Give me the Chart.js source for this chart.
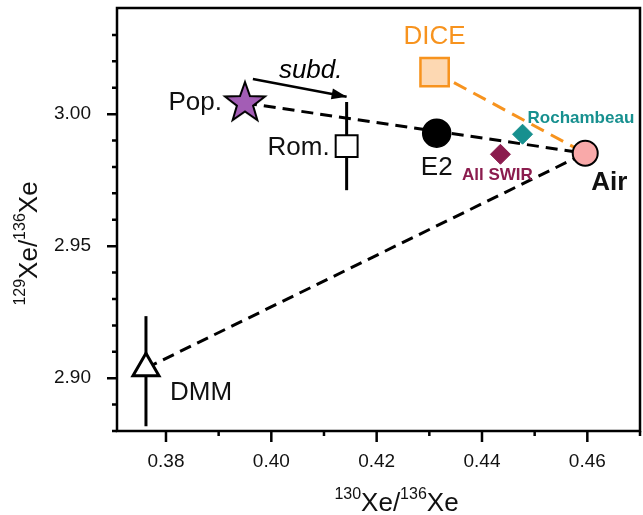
<!DOCTYPE html>
<html>
<head>
<meta charset="utf-8">
<script src="https://cdn.jsdelivr.net/npm/chart.js@4.4.0/dist/chart.umd.min.js"></script>
<style>
  html, body { margin: 0; padding: 0; background: #fff; }
</style>
</head>
<body>
<canvas id="xeChart" width="643" height="515"></canvas>
<script>
/* ------------ DATA ------------ */
const names = ['Pop.', 'Rom.', 'E2', 'Air', 'DICE', 'Rochambeau', 'All SWIR', 'DMM'];
const xVals = [0.3950, 0.4143, 0.4314, 0.4596, 0.4310, 0.4477, 0.4435, 0.3762];
const yVals = [3.0042, 2.9879, 2.9928, 2.9852, 3.0159, 2.9924, 2.9848, 2.9038];

const romErr = [2.9712, 3.0046];   // vertical error bar on Rom.
const dmmErr = [2.8818, 2.9235];   // vertical error bar on DMM

const subdX = [0.3965, 0.4143];    // "subd." arrow
const subdY = [3.0133, 3.0066];

const mixBlack = [['Pop.', 'Air'], ['DMM', 'Air']];
const mixOrange = [['DICE', 'Air']];

const xMajor = [0.38, 0.40, 0.42, 0.44, 0.46];
const xMajorLabels = ['0.38', '0.40', '0.42', '0.44', '0.46'];
const xMinor = [0.39, 0.41, 0.43, 0.45, 0.47];
const yMajor = [2.90, 2.95, 3.00];
const yMajorLabels = ['2.90', '2.95', '3.00'];
const yMinor = [2.89, 2.91, 2.92, 2.93, 2.94, 2.96, 2.97, 2.98, 2.99, 3.01, 3.02, 3.03];

/* ------------ STYLE ------------ */
const FONT = '"Liberation Sans", Arial, Helvetica, sans-serif';
const ORANGE = '#f7931e';
const TEAL = '#17908f';
const MAROON = '#8b1c4e';

const labelStyle = {
  'Pop.':       { dx: -23, dy: 7,   align: 'right',  font: `26px ${FONT}`, color: '#111' },
  'Rom.':       { dx: -17, dy: 9,   align: 'right',  font: `26px ${FONT}`, color: '#111' },
  'E2':         { dx: 0,   dy: 42,  align: 'center', font: `26px ${FONT}`, color: '#111' },
  'Air':        { dx: 6,   dy: 37,  align: 'left',   font: `bold 26px ${FONT}`, color: '#111' },
  'DICE':       { dx: 0,   dy: -28, align: 'center', font: `26px ${FONT}`, color: ORANGE },
  'Rochambeau': { dx: 5,   dy: -11, align: 'left',   font: `bold 17px ${FONT}`, color: TEAL },
  'All SWIR':   { dx: -3,  dy: 26,  align: 'center', font: `bold 17px ${FONT}`, color: MAROON },
  'DMM':        { dx: 24,  dy: 32,  align: 'left',   font: `26px ${FONT}`, color: '#111' }
};

/* ------------ HELPERS ------------ */
const pt = name => { const i = names.indexOf(name); return { x: xVals[i], y: yVals[i] }; };
const near = (a, b) => Math.abs(a - b) < 1e-6;

function starImage(r, ri, fill) {
  const c = document.createElement('canvas');
  const s = Math.ceil(r * 2 + 6);
  c.width = s; c.height = s;
  const g = c.getContext('2d');
  g.translate(s / 2, s / 2);
  g.beginPath();
  for (let i = 0; i < 10; i++) {
    const rr = i % 2 ? ri : r;
    const a = -Math.PI / 2 + i * Math.PI / 5;
    g.lineTo(rr * Math.cos(a), rr * Math.sin(a));
  }
  g.closePath();
  g.fillStyle = fill; g.fill();
  g.lineWidth = 2; g.strokeStyle = '#000'; g.lineJoin = 'miter'; g.stroke();
  return c;
}

const marker = (name, style, radius, fill, stroke, bw) => ({
  data: [pt(name)], pointStyle: style, pointRadius: radius,
  backgroundColor: fill, borderColor: stroke, borderWidth: bw, showLine: false, order: 0
});
const line = (data, color, dash, width) => ({
  data, showLine: true, pointRadius: 0, borderColor: color, borderDash: dash,
  borderWidth: width, fill: false, order: 1
});

/* ------------ DECORATION PLUGIN ------------ */
const deco = {
  id: 'deco',
  afterDatasetsDraw(chart) {
    const { ctx, scales: { x, y } } = chart;
    ctx.save();

    // arrowhead on the subd. arrow
    const x0 = x.getPixelForValue(subdX[0]), y0 = y.getPixelForValue(subdY[0]);
    const x1 = x.getPixelForValue(subdX[1]), y1 = y.getPixelForValue(subdY[1]);
    const ang = Math.atan2(y1 - y0, x1 - x0);
    ctx.fillStyle = '#000';
    ctx.beginPath();
    ctx.moveTo(x1, y1);
    ctx.lineTo(x1 - 15 * Math.cos(ang) + 5.5 * Math.sin(ang), y1 - 15 * Math.sin(ang) - 5.5 * Math.cos(ang));
    ctx.lineTo(x1 - 15 * Math.cos(ang) - 5.5 * Math.sin(ang), y1 - 15 * Math.sin(ang) + 5.5 * Math.cos(ang));
    ctx.closePath(); ctx.fill();
    ctx.font = `italic 26px ${FONT}`;
    ctx.textAlign = 'left'; ctx.textBaseline = 'alphabetic';
    ctx.fillText('subd.', x0 + 26, y0 - 1);

    // point labels
    names.forEach((n, i) => {
      const s = labelStyle[n];
      ctx.font = s.font; ctx.fillStyle = s.color; ctx.textAlign = s.align;
      ctx.fillText(n, x.getPixelForValue(xVals[i]) + s.dx, y.getPixelForValue(yVals[i]) + s.dy);
    });
    ctx.restore();
  },
  afterDraw(chart) {
    const { ctx, chartArea: a, scales: { x, y } } = chart;
    ctx.save();
    ctx.strokeStyle = '#000';
    ctx.lineWidth = 2.5;
    ctx.strokeRect(a.left, a.top, a.right - a.left, a.bottom - a.top);
    ctx.beginPath();
    ctx.moveTo(a.left - 5, a.bottom); ctx.lineTo(a.left, a.bottom);
    // ticks, pointing outward
    xMajor.forEach(v => { const p = x.getPixelForValue(v); ctx.moveTo(p, a.bottom); ctx.lineTo(p, a.bottom + 11); });
    xMinor.forEach(v => { const p = x.getPixelForValue(v); ctx.moveTo(p, a.bottom); ctx.lineTo(p, a.bottom + 5); });
    yMajor.forEach(v => { const p = y.getPixelForValue(v); ctx.moveTo(a.left, p); ctx.lineTo(a.left - 10, p); });
    yMinor.forEach(v => { const p = y.getPixelForValue(v); ctx.moveTo(a.left, p); ctx.lineTo(a.left - 5, p); });
    ctx.stroke();

    // axis titles with superscripts
    const pieces = [['130', true], ['Xe/', false], ['136', true], ['Xe', false]];
    const widthOf = () => pieces.reduce((w, [t, sup]) => {
      ctx.font = `${sup ? 16 : 26}px ${FONT}`; return w + ctx.measureText(t).width;
    }, 0);
    const drawTitle = (cx, base) => {
      let px = cx - widthOf() / 2;
      ctx.textAlign = 'left'; ctx.textBaseline = 'alphabetic'; ctx.fillStyle = '#111';
      pieces.forEach(([t, sup]) => {
        ctx.font = `${sup ? 16 : 26}px ${FONT}`;
        ctx.fillText(t, px, sup ? base - 12 : base);
        px += ctx.measureText(t).width;
      });
    };
    drawTitle((a.left + a.right) / 2 + 18, a.bottom + 80);

    pieces[0][0] = '129';
    ctx.translate(37, (a.top + a.bottom) / 2 + 24);
    ctx.rotate(-Math.PI / 2);
    drawTitle(0, 0);
    ctx.restore();
  }
};

/* ------------ CHART ------------ */
const tickFont = { family: FONT, size: 19 };
const hiddenGrid = { drawOnChartArea: false, drawTicks: true, color: 'rgba(0,0,0,0)' };

new Chart(document.getElementById('xeChart'), {
  type: 'scatter',
  data: {
    datasets: [
      marker('Pop.', starImage(21, 8.5, '#a35db5'), 20, '#a35db5', '#000', 2),
      marker('Rom.', 'rect', 15.5, '#fff', '#000', 2),
      marker('E2', 'circle', 14, '#000', '#000', 1.5),
      marker('Air', 'circle', 12.5, '#f9a9a9', '#000', 2),
      marker('DICE', 'rect', 20, '#fdd8b2', ORANGE, 2.5),
      marker('Rochambeau', 'rectRot', 10, TEAL, TEAL, 1),
      marker('All SWIR', 'rectRot', 10, MAROON, MAROON, 1),
      marker('DMM', 'triangle', 15, '#fff', '#000', 3),
      ...mixBlack.map(([a, b]) => line([pt(a), pt(b)], '#000', [12, 7], 3)),
      ...mixOrange.map(([a, b]) => line([pt(a), pt(b)], ORANGE, [14, 8], 3)),
      line(romErr.map(v => ({ x: pt('Rom.').x, y: v })), '#000', [], 3),
      line(dmmErr.map(v => ({ x: pt('DMM').x, y: v })), '#000', [], 3),
      line(subdX.map((v, i) => ({ x: v, y: subdY[i] })), '#000', [], 2.5)
    ]
  },
  options: {
    responsive: false,
    animation: false,
    events: [],
    layout: { autoPadding: false, padding: { left: 0, top: 8, right: 3, bottom: 0 } },
    plugins: { legend: { display: false }, tooltip: { enabled: false } },
    scales: {
      x: {
        type: 'linear', min: 0.3707, max: 0.47,
        afterBuildTicks: s => { s.ticks = [...xMajor, ...xMinor].sort((a, b) => a - b).map(v => ({ value: v })); },
        afterFit: s => { s.height = 84; s.paddingLeft = 0; s.paddingRight = 0; },
        grid: { ...hiddenGrid, tickLength: 11 },
        border: { display: false },
        ticks: {
          autoSkip: false, maxRotation: 0, padding: 8, color: '#111', font: tickFont,
          callback: v => { const i = xMajor.findIndex(m => near(m, v)); return i < 0 ? '' : xMajorLabels[i]; }
        }
      },
      y: {
        type: 'linear', min: 2.88, max: 3.0402,
        afterBuildTicks: s => { s.ticks = [...yMajor, ...yMinor].sort((a, b) => a - b).map(v => ({ value: v })); },
        afterFit: s => { s.width = 117; s.paddingTop = 0; s.paddingBottom = 0; },
        grid: { ...hiddenGrid, tickLength: 10 },
        border: { display: false },
        ticks: {
          autoSkip: false, padding: 16, color: '#111', font: tickFont,
          callback: v => { const i = yMajor.findIndex(m => near(m, v)); return i < 0 ? '' : yMajorLabels[i]; }
        }
      }
    }
  },
  plugins: [deco]
});
</script>
</body>
</html>
